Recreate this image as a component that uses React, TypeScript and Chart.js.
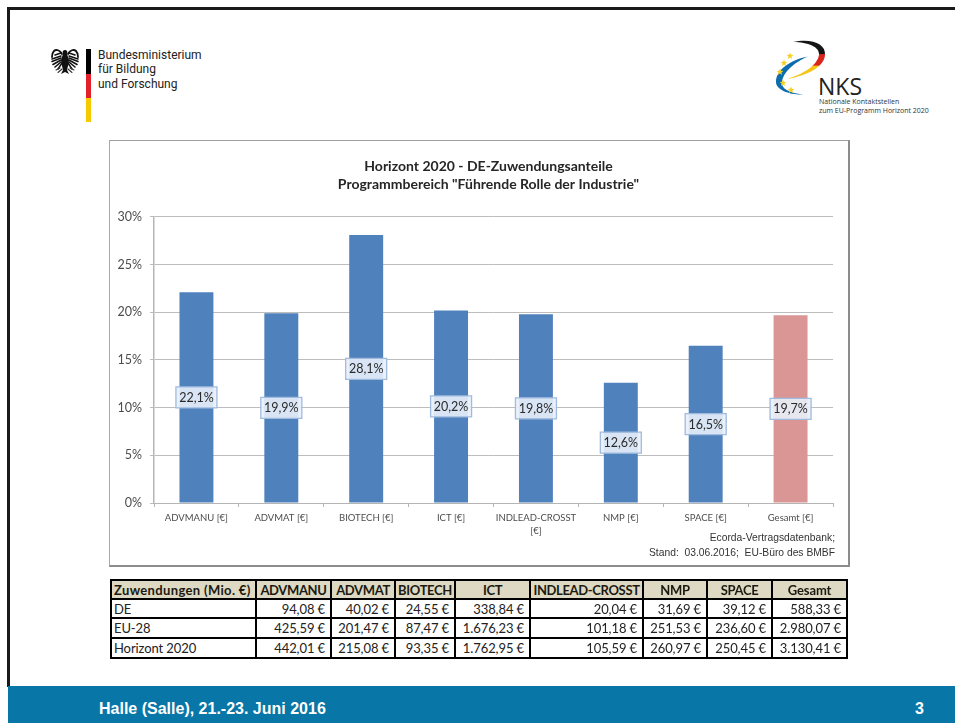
import React, { useEffect, useRef } from "react";
import { Chart, registerables } from "chart.js";

Chart.register(...registerables);

const categories: (string | string[])[] = [
  "ADVMANU [€]",
  "ADVMAT [€]",
  "BIOTECH [€]",
  "ICT [€]",
  ["INDLEAD-CROSST", "[€]"],
  "NMP [€]",
  "SPACE [€]",
  "Gesamt [€]",
];
const shares = [22.1, 19.9, 28.1, 20.2, 19.8, 12.6, 16.5, 19.7];
const barColors = ["#4f81bd", "#4f81bd", "#4f81bd", "#4f81bd", "#4f81bd", "#4f81bd", "#4f81bd", "#d99694"];
const chartTitle = ["Horizont 2020 - DE-Zuwendungsanteile", 'Programmbereich "Führende Rolle der Industrie"'];

const tableHeader = ["Zuwendungen (Mio. €)", "ADVMANU", "ADVMAT", "BIOTECH", "ICT", "INDLEAD-CROSST", "NMP", "SPACE", "Gesamt"];
const rowDE = ["DE", "94,08 €", "40,02 €", "24,55 €", "338,84 €", "20,04 €", "31,69 €", "39,12 €", "588,33 €"];
const rowEU = ["EU-28", "425,59 €", "201,47 €", "87,47 €", "1.676,23 €", "101,18 €", "251,53 €", "236,60 €", "2.980,07 €"];
const rowH2020 = ["Horizont 2020", "442,01 €", "215,08 €", "93,35 €", "1.762,95 €", "105,59 €", "260,97 €", "250,45 €", "3.130,41 €"];
const colWidths = [145, 75, 64, 60, 75, 113, 64, 65, 75];

const FONT = "Lato, 'Open Sans', sans-serif";

const valueLabels = {
  id: "valueLabels",
  afterDatasetsDraw(chart: any) {
    const ctx = chart.ctx;
    const meta = chart.getDatasetMeta(0);
    ctx.save();
    ctx.font = `12.5px ${FONT}`;
    ctx.textAlign = "center";
    ctx.textBaseline = "middle";
    meta.data.forEach((bar: any, i: number) => {
      const cy = (bar.y + bar.base) / 2;
      const w = 41;
      const h = 21;
      ctx.fillStyle = "rgba(232,239,249,0.9)";
      ctx.strokeStyle = "#a0bbde";
      ctx.lineWidth = 1.3;
      ctx.beginPath();
      ctx.rect(bar.x - w / 2, cy - h / 2, w, h);
      ctx.fill();
      ctx.stroke();
      ctx.fillStyle = "#2a2a2a";
      ctx.fillText(shares[i].toFixed(1).replace(".", ",") + "%", bar.x, cy + 0.5);
    });
    ctx.restore();
  },
};

// The reference's title sits right of the canvas centre: narrow the title block from the left.
const titleOffset = {
  id: "titleOffset",
  afterLayout(chart: any) {
    if (chart.titleBlock) chart.titleBlock.left += 34;
  },
};

function EagleHalf() {
  return (
    <g fill="none" stroke="#111" strokeLinecap="round">
      <path d="M62,54 C60,50 56,49 54,51 C52,53 52,55 52,57" strokeWidth={1.8} />
      <path d="M61,53 L55,55 M61,56 L52,59" strokeWidth={1.5} />
      <path d="M61,58 L52,61.5" strokeWidth={1.6} />
      <path d="M61,60 L53,64.5" strokeWidth={1.6} />
      <path d="M61,62 L55,67" strokeWidth={1.6} />
      <path d="M62,63 L58,69" strokeWidth={1.5} />
      <path d="M62,69 L58,72.5 M60,68 L56,70" strokeWidth={1.1} stroke="#333" />
    </g>
  );
}

function Eagle() {
  return (
    <svg style={{ position: "absolute", left: 0, top: 0 }} width={130} height={90}>
      <EagleHalf />
      <g transform="translate(130,0) scale(-1,1)">
        <EagleHalf />
      </g>
      <path d="M65,50 C67,50 68,52 67,54 L69,60 L68,66 L67,70 L69,74 L65,72 L61,74 L63,70 L62,66 L61,60 L63,54 C62,52 63,50 65,50 Z" fill="#111" />
    </svg>
  );
}

function NksLogo() {
  const stars: [number, number][] = [[790, 56], [784, 63], [780, 72], [783, 83], [791, 90]];
  const star = (x: number, y: number, r: number) => {
    let d = "";
    for (let i = 0; i < 10; i++) {
      const a = -Math.PI / 2 + (i * Math.PI) / 5;
      const rr = i % 2 ? r * 0.42 : r;
      d += `${i ? "L" : "M"}${x + rr * Math.cos(a)},${y + rr * Math.sin(a)} `;
    }
    return d + "Z";
  };
  return (
    <svg style={{ position: "absolute", left: 0, top: 0 }} width={955} height={130}>
      <defs>
        <linearGradient id="de" x1="0" y1="42" x2="0" y2="79" gradientUnits="userSpaceOnUse">
          <stop offset="0.32" stopColor="#151515" />
          <stop offset="0.34" stopColor="#d9261c" />
          <stop offset="0.62" stopColor="#d9261c" />
          <stop offset="0.66" stopColor="#f5c518" />
        </linearGradient>
      </defs>
      <path d="M793,42 C812,38 826,44 825,55 C824,68 805,76 787,79 C803,74 817,66 819,55 C820,47 808,42 793,42 Z" fill="url(#de)" />
      <path d="M808,56.5 C790,60 776,70 776,82 C776,90 790,95 803,94.5 C790,93 781,89 782,82 C783,72 795,62 808,56.5 Z" fill="#0b6cae" />
      {stars.map(([x, y], i) => (
        <path key={i} d={star(x, y, 3.6)} fill="#f6cf1c" />
      ))}
    </svg>
  );
}

export default function App() {
  const ref = useRef<HTMLCanvasElement>(null);

  useEffect(() => {
    const chart = new Chart(ref.current!, {
      type: "bar",
      data: {
        labels: categories as any,
        datasets: [
          {
            data: shares,
            backgroundColor: barColors,
            categoryPercentage: 0.4,
            barPercentage: 1,
          },
        ],
      },
      plugins: [valueLabels, titleOffset],
      options: {
        animation: false,
        responsive: false,
        maintainAspectRatio: false,
        layout: { padding: { top: 0, right: 15, bottom: 0, left: 0 } },
        plugins: {
          legend: { display: false },
          tooltip: { enabled: false },
          title: {
            display: true,
            text: chartTitle,
            color: "#262626",
            font: { family: FONT, size: 14, weight: "bold", lineHeight: 1.32 },
            padding: { top: 16, bottom: 23 },
          },
        },
        scales: {
          x: {
            afterFit: (s: any) => {
              s.height = 62;
            },
            grid: {
              drawOnChartArea: false,
              drawTicks: true,
              tickLength: 4,
              color: "#b5b5b5",
            },
            border: { color: "#b5b5b5", width: 1 },
            ticks: {
              color: "#4d4d4d",
              font: { family: FONT, size: 9.5, lineHeight: 1.3 },
              maxRotation: 0,
              minRotation: 0,
              autoSkip: false,
              padding: 5,
            },
          },
          y: {
            min: 0,
            max: 30,
            afterFit: (s: any) => {
              s.width = 44;
            },
            grid: { color: "#bdbdbd", lineWidth: 1, tickLength: 4 },
            border: { color: "#b5b5b5", width: 1.5 },
            ticks: {
              stepSize: 5,
              color: "#4d4d4d",
              font: { family: FONT, size: 12.5 },
              padding: 8,
              callback: (v: any) => `${v}%`,
            },
          },
        },
      },
    } as any);
    return () => chart.destroy();
  }, []);

  const cell = (text: string, j: number, head: boolean) => {
    const upper = head && j > 0 && text === text.toUpperCase();
    return (
      <td
        key={j}
        style={{
          borderRight: "2px solid #000",
          borderBottom: "2px solid #000",
          padding: j === 0 ? "0 1px 0 2px" : head ? "0" : "0 5px 0 0",
          textAlign: head ? (j === 0 ? "left" : "center") : j === 0 ? "left" : "right",
          fontWeight: head ? 700 : 400,
          background: head ? "#ddd9c3" : "#fff",
          color: head ? "#1c1a10" : "#222",
          whiteSpace: "nowrap",
          overflow: "hidden",
          lineHeight: "16px",
          letterSpacing: upper ? -0.35 : head && j === 0 ? 0.35 : -0.1,
        }}
      >
        {text}
      </td>
    );
  };

  return (
    <div style={{ position: "absolute", left: 0, top: 0, width: 955, height: 723, overflow: "hidden", background: "#fff" }}>
      {/* slide frame */}
      <div style={{ position: "absolute", left: 7, top: 7, width: 948, height: 3, background: "#1a1a1a" }} />
      <div style={{ position: "absolute", left: 7, top: 7, width: 2.5, height: 680, background: "#1a1a1a" }} />

      {/* ministry logo */}
      <Eagle />
      <div style={{ position: "absolute", left: 86, top: 49, width: 5, height: 25, background: "#000" }} />
      <div style={{ position: "absolute", left: 86, top: 74, width: 5, height: 24, background: "#e3202a" }} />
      <div style={{ position: "absolute", left: 86, top: 98, width: 5, height: 24, background: "#f6ca00" }} />
      <div style={{ position: "absolute", left: 98, top: 48, font: "12px/14.3px Roboto, sans-serif", color: "#222" }}>
        Bundesministerium
        <br />
        für Bildung
        <br />
        und Forschung
      </div>

      {/* NKS logo */}
      <NksLogo />
      <div style={{ position: "absolute", left: 818, top: 72, font: "23px/28px 'Open Sans', sans-serif", color: "#222" }}>NKS</div>
      <div style={{ position: "absolute", left: 819, top: 97, font: "7px/9px 'Open Sans', sans-serif", color: "#333", whiteSpace: "nowrap" }}>
        Nationale Kontaktstellen
        <br />
        zum EU-Programm Horizont 2020
      </div>

      {/* chart box */}
      <div
        style={{
          position: "absolute",
          left: 109,
          top: 140,
          width: 741,
          height: 427,
          boxSizing: "border-box",
          borderTop: "1px solid #a0a0a0",
          borderLeft: "1px solid #a8a8a8",
          borderRight: "2px solid #8c8c8c",
          borderBottom: "2px solid #8c8c8c",
        }}
      />
      <canvas ref={ref} width={738} height={424} style={{ position: "absolute", left: 110, top: 141, width: 738, height: 424 }} />
      <div
        style={{
          position: "absolute",
          right: 120,
          top: 531,
          textAlign: "right",
          font: "10.3px/14.5px 'Liberation Sans', Arial, sans-serif",
          color: "#333",
          whiteSpace: "pre",
        }}
      >
        {"Ecorda-Vertragsdatenbank;\nStand:  03.06.2016;  EU-Büro des BMBF"}
      </div>

      {/* table */}
      <table
        style={{
          position: "absolute",
          left: 110,
          top: 579,
          width: 738,
          tableLayout: "fixed",
          borderCollapse: "separate",
          borderSpacing: 0,
          font: `13px ${FONT}`,
          borderTop: "2px solid #000",
          borderLeft: "2px solid #000",
        }}
      >
        <colgroup>
          {colWidths.map((w, i) => (
            <col key={i} style={{ width: w }} />
          ))}
        </colgroup>
        <tbody>
          <tr style={{ height: 19 }}>{tableHeader.map((t, j) => cell(t, j, true))}</tr>
          <tr style={{ height: 19 }}>{rowDE.map((t, j) => cell(t, j, false))}</tr>
          <tr style={{ height: 20 }}>{rowEU.map((t, j) => cell(t, j, false))}</tr>
          <tr style={{ height: 20 }}>{rowH2020.map((t, j) => cell(t, j, false))}</tr>
        </tbody>
      </table>

      {/* footer */}
      <div style={{ position: "absolute", left: 8, top: 686, width: 947, height: 37, background: "#0876a6" }} />
      <div style={{ position: "absolute", left: 99, top: 700, font: "bold 16px/18px 'Liberation Sans', Arial, sans-serif", color: "#fff", whiteSpace: "nowrap" }}>
        Halle (Salle), 21.-23. Juni 2016
      </div>
      <div style={{ position: "absolute", left: 915, top: 700, font: "bold 16px/18px 'Liberation Sans', Arial, sans-serif", color: "#fff" }}>3</div>
    </div>
  );
}
